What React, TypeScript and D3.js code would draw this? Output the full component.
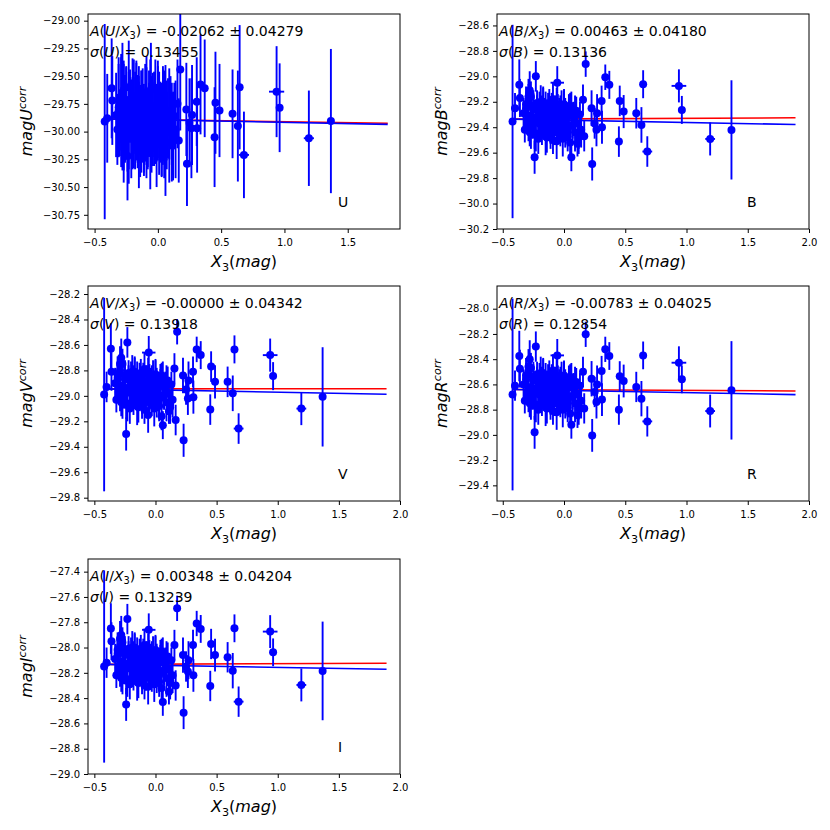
import React, { useEffect, useRef } from 'react';
import * as d3 from 'd3';

// X3 colour term, shared by all five bands (outliers first, then the dense core)
const X3 = [
  -0.42, -0.40, -0.365, -0.36, -0.23, -0.24, -0.28, -0.29, -0.055, 0.06,
  0.177, 0.155, 0.165, 0.11, 0.23, 0.225, 0.265, 0.25, 0.27, 0.307,
  0.31, 0.337, 0.37, 0.455, 0.448, 0.487, 0.59, 0.632, 0.646, 0.68,
  0.938, 0.962, 1.193, 1.367,
  -0.33, -0.32, -0.31, -0.30, -0.29, -0.28, -0.27, -0.27, -0.26, -0.25,
  -0.24, -0.23, -0.22, -0.21, -0.20, -0.20, -0.19, -0.18, -0.17, -0.17,
  -0.16, -0.15, -0.14, -0.14, -0.13, -0.12, -0.11, -0.10, -0.10, -0.09,
  -0.08, -0.07, -0.06, -0.05, -0.05, -0.04, -0.03, -0.02, -0.01, 0.00,
  0.01, 0.02, 0.03, 0.04, 0.05, 0.06, 0.07, 0.08, 0.09, 0.10,
  0.11, 0.12, 0.13, 0.14, -0.21, -0.12, -0.07, 0.02, -0.25, -0.16,
  -0.31, -0.29, -0.26, -0.23, -0.22, -0.19, -0.18, -0.15, -0.13, -0.11,
  -0.09, -0.08, -0.06, -0.04, -0.03, -0.01, 0.01, 0.03, 0.05, 0.07,
  0.09, 0.12, -0.27, -0.17, -0.02, 0.04, -0.15, -0.09, 0.00, -0.20,
];
const X3_ERR = [
  0.02, 0.03, 0, 0, 0, 0, 0, 0, 0.055, 0,
  0, 0, 0, 0, 0, 0, 0, 0, 0, 0,
  0, 0, 0, 0, 0, 0, 0, 0, 0, 0.04,
  0.06, 0, 0.04, 0,
  0, 0, 0, 0, 0, 0, 0, 0, 0, 0,
  0, 0, 0, 0, 0, 0, 0, 0, 0, 0,
  0, 0, 0, 0, 0, 0, 0, 0, 0, 0,
  0, 0, 0, 0, 0, 0, 0, 0, 0, 0,
  0, 0, 0, 0, 0, 0, 0, 0, 0, 0,
  0, 0, 0, 0, 0, 0, 0, 0, 0, 0,
  0, 0, 0, 0, 0, 0, 0, 0, 0, 0,
  0, 0, 0, 0, 0, 0, 0, 0, 0, 0,
  0, 0, 0, 0, 0, 0, 0, 0, 0, 0,
];

const MAG_U = [
  -29.91, -29.88, -29.61, -29.72, -29.60, -30.22, -29.65, -29.70, -29.62, -30.20,
  -29.44, -29.75, -30.08, -30.10, -30.29, -29.80, -29.97, -29.92, -29.85, -29.73,
  -29.97, -29.575, -29.61, -29.74, -30.05, -29.81, -29.84, -29.95, -29.60, -30.21,
  -29.64, -29.785, -30.06, -29.905,
  -29.85, -29.98, -29.78, -29.92, -29.75, -30.00, -29.87, -29.72, -29.95, -29.82,
  -30.02, -29.90, -29.80, -30.05, -29.84, -29.93, -29.76, -29.99, -29.88, -29.79,
  -29.96, -29.81, -30.04, -29.86, -29.91, -29.77, -30.01, -29.83, -29.94, -29.74,
  -29.98, -29.89, -30.07, -29.80, -29.96, -29.85, -30.02, -29.82, -29.92, -29.78,
  -29.99, -29.87, -30.03, -29.84, -30.08, -29.81, -29.95, -29.88, -30.00, -29.83,
  -29.93, -30.04, -29.86, -29.98, -29.89, -29.94, -29.84, -29.97, -29.79, -29.91,
  -29.81, -29.96, -29.88, -30.01, -29.77, -29.92, -29.83, -30.03, -29.80, -29.97,
  -29.86, -30.00, -29.78, -29.93, -29.82, -30.05, -29.85, -29.98, -29.79, -29.94,
  -29.84, -30.02, -29.99, -29.76, -29.96, -29.87, -29.89, -30.06, -29.81, -29.91,
];
const ERR_U = [
  0.88, 0.40, 0.45, 0.40, 0.42, 0.40, 0.45, 0.40, 0.42, 0.38,
  0.55, 0.40, 0.38, 0.35, 0.38, 0.42, 0.45, 0.40, 0.45, 0.40,
  0.40, 0.45, 0.44, 0.46, 0.45, 0.42, 0.40, 0.50, 0.56, 0.39,
  0.41, 0.40, 0.43, 0.65,
  0.38, 0.32, 0.45, 0.30, 0.42, 0.35, 0.48, 0.36, 0.33, 0.40,
  0.34, 0.44, 0.29, 0.37, 0.50, 0.31, 0.41, 0.35, 0.38, 0.43,
  0.32, 0.40, 0.37, 0.28, 0.46, 0.34, 0.39, 0.44, 0.31, 0.42,
  0.36, 0.33, 0.45, 0.30, 0.41, 0.38, 0.29, 0.47, 0.35, 0.37,
  0.40, 0.32, 0.38, 0.43, 0.34, 0.41, 0.31, 0.36, 0.46, 0.33,
  0.37, 0.40, 0.30, 0.44, 0.36, 0.34, 0.39, 0.31, 0.38, 0.42,
  0.42, 0.36, 0.39, 0.46, 0.33, 0.41, 0.37, 0.48, 0.35, 0.40,
  0.44, 0.32, 0.43, 0.38, 0.36, 0.45, 0.39, 0.42, 0.34, 0.40,
  0.41, 0.37, 0.47, 0.38, 0.33, 0.43, 0.39, 0.36, 0.45, 0.40,
];

const MAG_B = [
  -29.355, -29.25, -29.067, -29.17, -29.00, -29.636, -29.11, -29.16, -29.05, -29.636,
  -28.904, -29.185, -29.47, -29.53, -29.689, -29.25, -29.42, -29.37, -29.29, -29.193,
  -29.40, -29.007, -29.067, -29.193, -29.513, -29.277, -29.29, -29.382, -29.062, -29.591,
  -29.075, -29.264, -29.492, -29.421,
  -29.29, -29.42, -29.22, -29.36, -29.19, -29.44, -29.31, -29.16, -29.39, -29.26,
  -29.46, -29.34, -29.24, -29.49, -29.28, -29.37, -29.20, -29.43, -29.32, -29.23,
  -29.40, -29.25, -29.48, -29.30, -29.35, -29.21, -29.45, -29.27, -29.38, -29.18,
  -29.42, -29.33, -29.51, -29.24, -29.40, -29.29, -29.46, -29.26, -29.36, -29.22,
  -29.43, -29.31, -29.47, -29.28, -29.52, -29.25, -29.39, -29.32, -29.44, -29.27,
  -29.37, -29.48, -29.30, -29.42, -29.33, -29.38, -29.28, -29.41, -29.23, -29.35,
  -29.25, -29.40, -29.32, -29.45, -29.21, -29.36, -29.27, -29.47, -29.24, -29.41,
  -29.30, -29.44, -29.22, -29.37, -29.26, -29.49, -29.29, -29.42, -29.23, -29.38,
  -29.28, -29.46, -29.43, -29.20, -29.40, -29.31, -29.33, -29.50, -29.25, -29.35,
];
const MAG_V = [
  -28.99, -28.93, -28.63, -28.81, -28.58, -29.30, -28.70, -28.75, -28.66, -29.23,
  -28.496, -28.785, -29.19, -29.12, -29.349, -28.84, -29.02, -28.95, -28.88, -28.81,
  -29.01, -28.635, -28.68, -28.77, -29.108, -28.89, -28.89, -28.98, -28.635, -29.257,
  -28.68, -28.845, -29.10, -29.008,
  -28.90, -29.03, -28.83, -28.97, -28.80, -29.05, -28.92, -28.75, -29.00, -28.87,
  -29.07, -28.95, -28.85, -29.10, -28.89, -28.98, -28.81, -29.04, -28.93, -28.84,
  -29.01, -28.86, -29.09, -28.91, -28.96, -28.82, -29.06, -28.88, -28.99, -28.79,
  -29.03, -28.94, -29.15, -28.85, -29.01, -28.90, -29.07, -28.87, -28.97, -28.83,
  -29.04, -28.92, -29.08, -28.89, -29.16, -28.86, -29.00, -28.93, -29.05, -28.88,
  -28.98, -29.09, -28.91, -29.03, -28.94, -28.99, -28.89, -29.02, -28.84, -28.96,
  -28.86, -29.01, -28.93, -29.06, -28.82, -28.97, -28.88, -29.08, -28.85, -29.02,
  -28.91, -29.05, -28.83, -28.98, -28.87, -29.10, -28.90, -29.03, -28.84, -28.99,
  -28.89, -29.07, -29.04, -28.81, -29.01, -28.92, -28.94, -29.11, -28.86, -28.96,
];
const MAG_R = [
  -28.68, -28.61, -28.375, -28.475, -28.30, -28.98, -28.40, -28.46, -28.37, -28.92,
  -28.203, -28.50, -28.79, -28.845, -29.004, -28.555, -28.74, -28.66, -28.60, -28.494,
  -28.72, -28.322, -28.375, -28.536, -28.80, -28.573, -28.62, -28.713, -28.37, -28.893,
  -28.428, -28.56, -28.811, -28.647,
  -28.60, -28.73, -28.53, -28.67, -28.50, -28.75, -28.62, -28.47, -28.70, -28.57,
  -28.77, -28.65, -28.55, -28.80, -28.59, -28.68, -28.51, -28.74, -28.63, -28.54,
  -28.71, -28.56, -28.79, -28.61, -28.66, -28.52, -28.76, -28.58, -28.69, -28.49,
  -28.73, -28.64, -28.82, -28.55, -28.71, -28.60, -28.77, -28.57, -28.67, -28.53,
  -28.74, -28.62, -28.78, -28.59, -28.83, -28.56, -28.70, -28.63, -28.75, -28.58,
  -28.68, -28.79, -28.61, -28.73, -28.64, -28.69, -28.59, -28.72, -28.54, -28.66,
  -28.56, -28.71, -28.63, -28.76, -28.52, -28.67, -28.58, -28.78, -28.55, -28.72,
  -28.61, -28.75, -28.53, -28.68, -28.57, -28.80, -28.60, -28.73, -28.54, -28.69,
  -28.59, -28.77, -28.74, -28.51, -28.71, -28.62, -28.64, -28.81, -28.56, -28.66,
];
const MAG_I = [
  -28.15, -28.12, -27.85, -27.95, -27.775, -28.45, -27.90, -27.93, -27.86, -28.43,
  -27.69, -27.98, -28.30, -28.35, -28.515, -28.06, -28.19, -28.15, -28.10, -27.98,
  -28.22, -27.81, -27.853, -27.972, -28.304, -28.06, -28.077, -28.183, -27.848, -28.428,
  -27.874, -28.038, -28.296, -28.185,
  -28.09, -28.22, -28.02, -28.16, -27.99, -28.24, -28.11, -27.96, -28.19, -28.06,
  -28.26, -28.14, -28.04, -28.29, -28.08, -28.17, -28.00, -28.23, -28.12, -28.03,
  -28.20, -28.05, -28.28, -28.10, -28.15, -28.01, -28.25, -28.07, -28.18, -27.98,
  -28.22, -28.13, -28.31, -28.04, -28.20, -28.09, -28.26, -28.06, -28.16, -28.02,
  -28.23, -28.11, -28.27, -28.08, -28.32, -28.05, -28.19, -28.12, -28.24, -28.07,
  -28.17, -28.28, -28.10, -28.22, -28.13, -28.18, -28.08, -28.21, -28.03, -28.15,
  -28.05, -28.20, -28.12, -28.25, -28.01, -28.16, -28.07, -28.27, -28.04, -28.21,
  -28.10, -28.24, -28.02, -28.17, -28.06, -28.29, -28.09, -28.22, -28.03, -28.18,
  -28.08, -28.26, -28.23, -28.00, -28.20, -28.11, -28.13, -28.30, -28.05, -28.15,
];
// y errors of B, V, R and I look the same point by point
const ERR_OPT = [
  0.76, 0.12, 0.20, 0.15, 0.12, 0.13, 0.15, 0.14, 0.13, 0.11,
  0.10, 0.12, 0.12, 0.10, 0.13, 0.14, 0.13, 0.12, 0.15, 0.12,
  0.13, 0.10, 0.11, 0.12, 0.12, 0.13, 0.12, 0.14, 0.11, 0.12,
  0.13, 0.11, 0.13, 0.39,
  0.12, 0.10, 0.14, 0.09, 0.13, 0.11, 0.15, 0.12, 0.10, 0.13,
  0.11, 0.14, 0.09, 0.12, 0.16, 0.10, 0.13, 0.11, 0.12, 0.14,
  0.10, 0.13, 0.12, 0.09, 0.15, 0.11, 0.12, 0.14, 0.10, 0.13,
  0.12, 0.11, 0.14, 0.10, 0.13, 0.12, 0.09, 0.15, 0.11, 0.12,
  0.13, 0.10, 0.12, 0.14, 0.11, 0.13, 0.10, 0.12, 0.15, 0.11,
  0.12, 0.13, 0.10, 0.14, 0.12, 0.11, 0.13, 0.10, 0.12, 0.14,
  0.13, 0.11, 0.12, 0.14, 0.10, 0.13, 0.12, 0.15, 0.11, 0.12,
  0.14, 0.10, 0.13, 0.12, 0.11, 0.14, 0.12, 0.13, 0.10, 0.12,
  0.13, 0.11, 0.14, 0.12, 0.10, 0.13, 0.12, 0.11, 0.14, 0.12,
];

const BANDS = ['U', 'B', 'V', 'R', 'I'];
const SLOPES = ['-0.02062', '0.00463', '-0.00000', '-0.00783', '0.00348'];
const SLOPE_ERRS = ['0.04279', '0.04180', '0.04342', '0.04025', '0.04204'];
const SIGMAS = ['0.13455', '0.13136', '0.13918', '0.12854', '0.13239'];

// fit lines: x extent, red and blue end values
const FIT_X = [[-0.42, 1.816], [-0.42, 1.89], [-0.42, 1.89], [-0.42, 1.89], [-0.42, 1.89]];
const RED_FIT = [[-29.885, -29.925], [-29.336, -29.326], [-28.945, -28.944], [-28.64, -28.652], [-28.133, -28.124]];
const BLUE_FIT = [[-29.885, -29.935], [-29.336, -29.379], [-28.945, -28.987], [-28.64, -28.681], [-28.133, -28.172]];

const X_TICKS_U = [-0.5, 0.0, 0.5, 1.0, 1.5];
const X_TICKS = [-0.5, 0.0, 0.5, 1.0, 1.5, 2.0];
const Y_TICKS_U = [-29.0, -29.25, -29.5, -29.75, -30.0, -30.25, -30.5, -30.75];
const Y_TICKS_B = [-28.6, -28.8, -29.0, -29.2, -29.4, -29.6, -29.8, -30.0, -30.2];
const Y_TICKS_V = [-28.2, -28.4, -28.6, -28.8, -29.0, -29.2, -29.4, -29.6, -29.8];
const Y_TICKS_R = [-28.0, -28.2, -28.4, -28.6, -28.8, -29.0, -29.2, -29.4];
const Y_TICKS_I = [-27.4, -27.6, -27.8, -28.0, -28.2, -28.4, -28.6, -28.8, -29.0];

const W = 312;
const H = 215;
const FONT = 'DejaVu Sans, sans-serif';

const PANELS = [
  { left: 88, top: 14, xd: [-0.552, 1.913], yd: [-30.878, -28.94], xt: X_TICKS_U, yt: Y_TICKS_U, yf: '.2f', mag: MAG_U, err: ERR_U, labX: 32 },
  { left: 497, top: 14, xd: [-0.547, 2.0], yd: [-30.2, -28.51], xt: X_TICKS, yt: Y_TICKS_B, yf: '.1f', mag: MAG_B, err: ERR_OPT, labX: 447 },
  { left: 88, top: 286, xd: [-0.552, 2.0], yd: [-29.826, -28.137], xt: X_TICKS, yt: Y_TICKS_V, yf: '.1f', mag: MAG_V, err: ERR_OPT, labX: 32 },
  { left: 497, top: 286, xd: [-0.547, 2.0], yd: [-29.524, -27.82], xt: X_TICKS, yt: Y_TICKS_R, yf: '.1f', mag: MAG_R, err: ERR_OPT, labX: 447 },
  { left: 88, top: 559, xd: [-0.552, 2.0], yd: [-29.0, -27.3], xt: X_TICKS, yt: Y_TICKS_I, yf: '.1f', mag: MAG_I, err: ERR_OPT, labX: 32 },
];

const App = () => {
  const svgRef = useRef<SVGSVGElement | null>(null);

  useEffect(() => {
    if (!svgRef.current) return;
    const svg = d3.select(svgRef.current);
    svg.selectAll('*').remove();

    PANELS.forEach((p, i) => {
      const band = BANDS[i];
      const x = d3.scaleLinear().domain(p.xd).range([0, W]);
      const y = d3.scaleLinear().domain(p.yd).range([H, 0]);
      const g = svg.append('g').attr('transform', `translate(${p.left},${p.top})`);

      g.append('clipPath').attr('id', `clip${i}`)
        .append('rect').attr('width', W).attr('height', H);
      const plot = g.append('g').attr('clip-path', `url(#clip${i})`);

      const line = d3.line<number[]>().x((d) => x(d[0])).y((d) => y(d[1]));
      plot.append('path')
        .attr('d', line([[FIT_X[i][0], RED_FIT[i][0]], [FIT_X[i][1], RED_FIT[i][1]]]))
        .attr('stroke', '#ff0000').attr('stroke-width', 1.6).attr('fill', 'none');
      plot.append('path')
        .attr('d', line([[FIT_X[i][0], BLUE_FIT[i][0]], [FIT_X[i][1], BLUE_FIT[i][1]]]))
        .attr('stroke', '#0000ff').attr('stroke-width', 1.6).attr('fill', 'none');

      const idx = d3.range(X3.length);
      plot.selectAll('line.ey').data(idx).enter().append('line')
        .attr('x1', (k) => x(X3[k])).attr('x2', (k) => x(X3[k]))
        .attr('y1', (k) => y(p.mag[k] + p.err[k])).attr('y2', (k) => y(p.mag[k] - p.err[k]))
        .attr('stroke', '#0000ff').attr('stroke-width', 1.9);
      plot.selectAll('line.ex').data(idx.filter((k) => X3_ERR[k] > 0)).enter().append('line')
        .attr('x1', (k) => x(X3[k] - X3_ERR[k])).attr('x2', (k) => x(X3[k] + X3_ERR[k]))
        .attr('y1', (k) => y(p.mag[k])).attr('y2', (k) => y(p.mag[k]))
        .attr('stroke', '#0000ff').attr('stroke-width', 1.9);
      plot.selectAll('circle').data(idx).enter().append('circle')
        .attr('cx', (k) => x(X3[k])).attr('cy', (k) => y(p.mag[k]))
        .attr('r', 4).attr('fill', '#0000ff');

      g.append('rect').attr('width', W).attr('height', H)
        .attr('fill', 'none').attr('stroke', '#000').attr('stroke-width', 1);

      const ax = g.append('g').attr('transform', `translate(0,${H})`)
        .call(d3.axisBottom(x).tickValues(p.xt).tickFormat(d3.format('.1f')).tickSize(4).tickPadding(5.6));
      const ay = g.append('g')
        .call(d3.axisLeft(y).tickValues(p.yt).tickFormat(d3.format(p.yf)).tickSize(4).tickPadding(4));
      [ax, ay].forEach((a) => {
        a.select('.domain').remove();
        a.selectAll('text').attr('font-family', FONT).attr('font-size', 10).attr('fill', '#000');
        a.selectAll('line').attr('stroke', '#000');
      });

      // fit annotation
      const t1 = g.append('text').attr('x', 2).attr('y', 21.7)
        .attr('font-family', FONT).attr('font-size', 14).attr('fill', '#000');
      t1.append('tspan').attr('font-style', 'italic').text('A');
      t1.append('tspan').text('(');
      t1.append('tspan').attr('font-style', 'italic').text(band);
      t1.append('tspan').text('/');
      t1.append('tspan').attr('font-style', 'italic').text('X');
      t1.append('tspan').attr('font-size', 9.8).attr('dy', 3).text('3');
      t1.append('tspan').attr('dy', -3).text(`) = ${SLOPES[i]} \u00b1 ${SLOPE_ERRS[i]}`);

      const t2 = g.append('text').attr('x', 2).attr('y', 43.3)
        .attr('font-family', FONT).attr('font-size', 14).attr('fill', '#000');
      t2.append('tspan').attr('font-style', 'italic').text('\u03c3');
      t2.append('tspan').text('(');
      t2.append('tspan').attr('font-style', 'italic').text(band);
      t2.append('tspan').text(`) = ${SIGMAS[i]}`);

      g.append('text').attr('x', 250).attr('y', 193)
        .attr('font-family', FONT).attr('font-size', 14).attr('fill', '#000').text(band);

      // axis titles
      const xl = g.append('text').attr('x', W / 2).attr('y', H + 38)
        .attr('text-anchor', 'middle').attr('font-family', FONT).attr('font-size', 16).attr('fill', '#000');
      xl.append('tspan').attr('font-style', 'italic').text('X');
      xl.append('tspan').attr('font-size', 11.2).attr('dy', 3.5).text('3');
      xl.append('tspan').attr('dy', -3.5).text('(');
      xl.append('tspan').attr('font-style', 'italic').text('mag');
      xl.append('tspan').text(')');

      const yl = svg.append('text')
        .attr('transform', `translate(${p.labX},${p.top + H / 2}) rotate(-90)`)
        .attr('text-anchor', 'middle').attr('font-family', FONT).attr('font-size', 16).attr('fill', '#000');
      yl.append('tspan').attr('font-style', 'italic').text(`mag${band}`);
      yl.append('tspan').attr('font-style', 'italic').attr('font-size', 11.2).attr('dy', -6.5).text('corr');
    });
  }, []);

  return (
    <svg ref={svgRef} width={830} height={830}
      style={{ position: 'absolute', left: 0, top: 0, background: '#fff' }} />
  );
};

export default App;
